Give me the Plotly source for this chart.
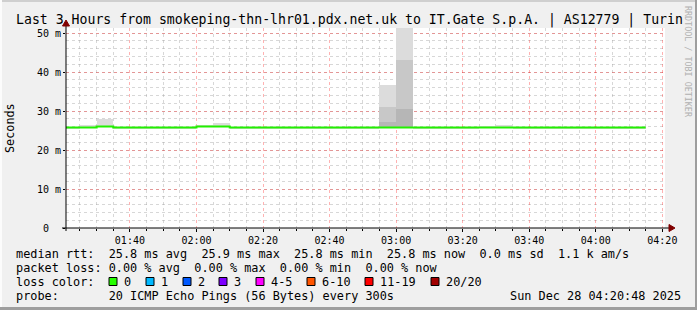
import plotly.graph_objects as go
import pandas as pd

# ---------------- data ----------------
day = "2025-12-28 "
bin_start = ["01:20", "01:25", "01:30", "01:35", "01:40", "01:45", "01:50", "01:55",
             "02:00", "02:05", "02:10", "02:15", "02:20", "02:25", "02:30", "02:35",
             "02:40", "02:45", "02:50", "02:55", "03:00", "03:05", "03:10", "03:15",
             "03:20", "03:25", "03:30", "03:35", "03:40", "03:45", "03:50", "03:55",
             "04:00", "04:05", "04:10"]
last_end = "04:15"

median_ms = [25.8, 25.8, 26.05, 25.8, 25.8, 25.8, 25.8, 25.8,
             26.05, 26.05, 25.8, 25.8, 25.8, 25.8, 25.8, 25.8,
             25.8, 25.8, 25.8, 25.8, 25.8, 25.8, 25.8, 25.8,
             25.8, 25.8, 25.8, 25.8, 25.8, 25.8, 25.8, 25.8,
             25.8, 25.8, 25.8]

smoke_min = [25.6, 25.6, 25.8, 25.6, 25.6, 25.6, 25.6, 25.6,
             25.8, 25.8, 25.6, 25.6, 25.6, 25.6, 25.6, 25.6,
             25.6, 25.6, 25.6, 25.6, 25.6, 25.6, 25.6, 25.6,
             25.6, 25.6, 25.6, 25.6, 25.6, 25.6, 25.6, 25.6,
             25.6, 25.6, 25.6]

smoke_max = [25.9, 26.5, 27.9, 25.9, 25.9, 25.9, 25.9, 25.9,
             26.5, 27.0, 25.9, 25.9, 25.9, 25.9, 25.9, 25.9,
             25.9, 25.9, 25.9, 36.7, 53.0, 25.9, 25.9, 25.9,
             25.9, 26.2, 26.5, 25.9, 25.9, 25.9, 25.9, 25.9,
             25.9, 25.9, 25.9]

smoke_mid = [None] * 19 + [31.1, 43.1] + [None] * 14
smoke_core = [None] * 19 + [27.3, 30.4] + [None] * 14

y_tick_vals = [0, 10, 20, 30, 40, 50]
y_tick_text = ["0\u00a0\u00a0", "10 m", "20 m", "30 m", "40 m", "50 m"]

title_text = "Last 3 Hours from smokeping-thn-lhr01.pdx.net.uk to IT.Gate S.p.A. | AS12779 | Turin"
line_rtt = "median rtt:  25.8 ms avg  25.9 ms max  25.8 ms min  25.8 ms now  0.0 ms sd  1.1 k am/s"
line_loss = "packet loss: 0.00 % avg  0.00 % max  0.00 % min  0.00 % now"
line_probe = "probe:       20 ICMP Echo Pings (56 Bytes) every 300s"
date_text = "Sun Dec 28 04:20:48 2025"
loss_labels = ["0", "1", "2", "3", "4-5", "6-10", "11-19", "20/20"]
loss_colors = ["#26ff00", "#00b8ff", "#0059ff", "#7e00ff", "#ff00ff", "#ff5500", "#ff0000", "#a10000"]

# ---------------- geometry ----------------
W, H = 697, 310
L, R, T, B = 66, 665, 28, 228
MONO = "DejaVu Sans Mono"


def px(x):
    return (x - L) / (R - L)


def py(y):
    return (B - y) / (B - T)


def nb(s):
    return s.replace(" ", "\u00a0")


times = pd.to_datetime([day + t for t in bin_start])
centers = times + pd.Timedelta(seconds=150)
line_x = list(times) + [pd.Timestamp(day + last_end)]
line_y = median_ms + [median_ms[-1]]

fig = go.Figure()


def smoke_layer(tops, color):
    bases, hs, xs = [], [], []
    for c, lo, hi in zip(centers, smoke_min, tops):
        if hi is None:
            continue
        xs.append(c)
        bases.append(lo)
        hs.append(hi - lo)
    fig.add_trace(go.Bar(x=xs, y=hs, base=bases, width=300000,
                         marker=dict(color=color, line=dict(width=0)),
                         showlegend=False, hoverinfo="skip"))


smoke_layer(smoke_max, "#dcdcdc")
smoke_layer(smoke_mid, "#c8c8c8")
smoke_layer(smoke_core, "#b6b6b6")

fig.add_trace(go.Scatter(x=line_x, y=line_y, mode="lines",
                         line=dict(color="#22f000", width=2, shape="hv"),
                         showlegend=False, hoverinfo="skip"))

shapes = []
# frame
shapes.append(dict(type="rect", xref="paper", yref="paper", x0=px(0), x1=px(W), y0=py(0), y1=py(2),
                   fillcolor="#cfcfcf", line=dict(width=0), layer="below"))
shapes.append(dict(type="rect", xref="paper", yref="paper", x0=px(0), x1=px(2), y0=py(0), y1=py(H),
                   fillcolor="#fcfcfc", line=dict(width=0), layer="below"))
shapes.append(dict(type="rect", xref="paper", yref="paper", x0=px(0), x1=px(W), y0=py(307), y1=py(H),
                   fillcolor="#9e9e9e", line=dict(width=0), layer="below"))
shapes.append(dict(type="rect", xref="paper", yref="paper", x0=px(695), x1=px(W), y0=py(0), y1=py(H),
                   fillcolor="#9e9e9e", line=dict(width=0), layer="below"))
# axes lines
shapes.append(dict(type="line", xref="paper", yref="paper", x0=px(62), x1=px(669), y0=py(228), y1=py(228),
                   line=dict(color="black", width=1)))
shapes.append(dict(type="line", xref="paper", yref="paper", x0=px(66), x1=px(66), y0=py(231), y1=py(26),
                   line=dict(color="black", width=1)))
# arrows
shapes.append(dict(type="path", xref="paper", yref="paper",
                   path=f"M {px(669)},{py(224.5)} L {px(669)},{py(231.5)} L {px(675)},{py(228)} Z",
                   fillcolor="#800000", line=dict(color="#800000", width=1)))
shapes.append(dict(type="path", xref="paper", yref="paper",
                   path=f"M {px(62.5)},{py(26)} L {px(69.5)},{py(26)} L {px(66)},{py(20)} Z",
                   fillcolor="#800000", line=dict(color="#800000", width=1)))

annotations = []


def text(x, y, s, size, xanchor="left", color="black", angle=0):
    annotations.append(dict(x=px(x), y=py(y), xref="paper", yref="paper", text=nb(s),
                            showarrow=False, xanchor=xanchor, yanchor="middle",
                            font=dict(family=MONO, size=size, color=color),
                            textangle=angle, borderpad=0, borderwidth=0))


text(349, 20, title_text, 13.2, xanchor="center")
text(10, 128, "Seconds", 11.8, xanchor="center", angle=-90)
text(688, 62, "RRDTOOL / TOBI OETIKER", 8.4, xanchor="center", color="#b0b0b0", angle=90)
text(16, 254, line_rtt, 11.85)
text(16, 268, line_loss, 11.85)
text(16, 282, "loss color:", 11.85)
text(16, 296, line_probe, 11.85)
text(510, 296, date_text, 11.85)

sq_left = [109, 146, 183, 219, 256, 307, 365, 431]
for xl, lab, col in zip(sq_left, loss_labels, loss_colors):
    shapes.append(dict(type="rect", xref="paper", yref="paper", x0=px(xl), x1=px(xl + 8),
                       y0=py(277.5), y1=py(285.5), fillcolor=col, line=dict(color="black", width=1)))
    text(xl + 15, 282, lab, 11.85)

grid_major = "rgba(255,0,0,0.3)"
grid_minor = "rgba(160,160,160,0.42)"

fig.update_layout(
    width=W, height=H, autosize=False,
    margin=dict(l=L, r=W - R, t=T, b=H - B, pad=0),
    paper_bgcolor="#f0f0f0", plot_bgcolor="white",
    barmode="overlay", bargap=0,
    showlegend=False,
    shapes=shapes, annotations=annotations,
    xaxis=dict(type="date", range=[day + "01:20:48", day + "04:20:48"],
               tickformat="%H:%M", dtick=1200000, tick0=day + "00:00",
               showgrid=True, gridcolor=grid_major, griddash="dot", gridwidth=1,
               ticks="outside", ticklen=3, tickcolor="black",
               tickfont=dict(family=MONO, size=10, color="black"),
               minor=dict(dtick=300000, tick0=day + "00:00", showgrid=True, gridcolor=grid_minor,
                          griddash="dot", ticks="outside", ticklen=2, tickcolor="black"),
               showline=False, zeroline=False, fixedrange=True),
    yaxis=dict(range=[0, 200 / 3.9], tickvals=y_tick_vals, ticktext=y_tick_text,
               showgrid=True, gridcolor=grid_major, griddash="dot", gridwidth=1,
               ticks="outside", ticklen=2, tickcolor="black",
               tickfont=dict(family=MONO, size=10, color="black"),
               minor=dict(dtick=2, showgrid=True, gridcolor=grid_minor, griddash="dot"),
               showline=False, zeroline=False, fixedrange=True),
)

fig.write_html("out.html")
